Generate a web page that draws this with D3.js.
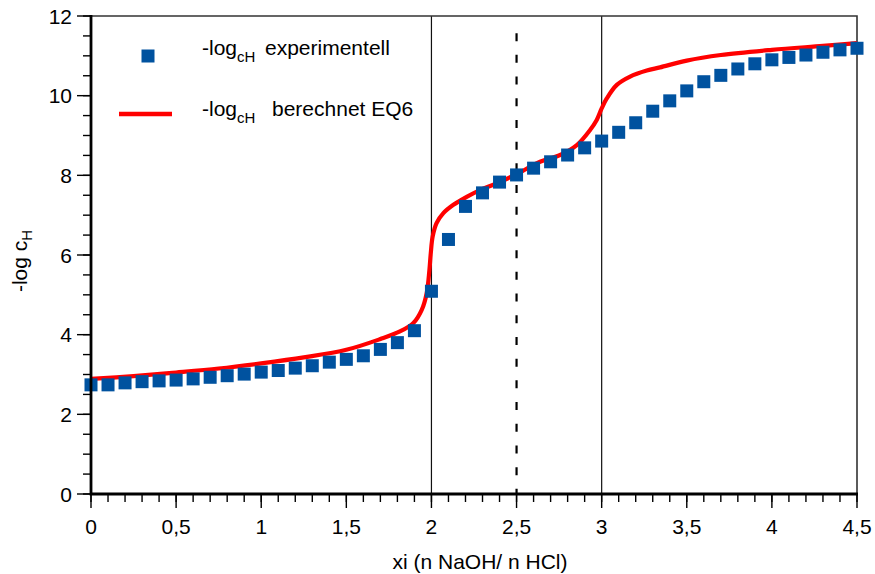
<!DOCTYPE html>
<html><head><meta charset="utf-8">
<script src="https://cdn.jsdelivr.net/npm/d3@7/dist/d3.min.js"></script>
<style>body{margin:0;background:#fff} svg{display:block} text{font-family:"Liberation Sans",Arial,sans-serif;fill:#000}</style>
</head><body><svg id="c" width="875" height="574"></svg>
<script>
// ---- data ----
const xExp = [0,0.1,0.2,0.3,0.4,0.5,0.6,0.7,0.8,0.9,1.0,1.1,1.2,1.3,1.4,1.5,1.6,1.7,1.8,1.9,2.0,2.1,2.2,2.3,2.4,2.5,2.6,2.7,2.8,2.9,3.0,3.1,3.2,3.3,3.4,3.5,3.6,3.7,3.8,3.9,4.0,4.1,4.2,4.3,4.4,4.5];
const yExp = [2.74,2.74,2.79,2.82,2.84,2.86,2.89,2.93,2.97,3.01,3.06,3.10,3.16,3.22,3.31,3.38,3.47,3.63,3.80,4.10,5.09,6.39,7.22,7.56,7.83,8.01,8.18,8.34,8.51,8.69,8.86,9.08,9.32,9.61,9.87,10.12,10.35,10.51,10.67,10.80,10.90,10.96,11.02,11.09,11.15,11.19];
const xCalc = [0,0.25,0.5,0.75,1.0,1.25,1.5,1.7,1.815,1.894,1.943,1.972,1.988,1.996,2.007,2.03,2.07,2.129,2.207,2.285,2.384,2.5,2.638,2.756,2.854,2.932,2.971,3.0,3.03,3.089,3.167,3.265,3.343,3.5,3.7,4.0,4.3,4.5];
const yCalc = [2.89,2.96,3.05,3.15,3.28,3.43,3.62,3.89,4.08,4.29,4.62,5.04,5.62,6.04,6.46,6.80,7.05,7.26,7.46,7.63,7.80,8.03,8.34,8.51,8.76,9.14,9.39,9.68,9.93,10.27,10.48,10.63,10.71,10.88,11.02,11.15,11.25,11.32];
const xMajorTicks = [0,0.5,1,1.5,2,2.5,3,3.5,4,4.5];
const xTickLabels = ["0","0,5","1","1,5","2","2,5","3","3,5","4","4,5"];
const yMajorTicks = [0,2,4,6,8,10,12];
const yTickLabels = ["0","2","4","6","8","10","12"];
const solidLines = [2,3];
const dashedLines = [2.5];
const seriesNames = ["experimentell","berechnet EQ6"];

// ---- layout ----
const svg = d3.select("#c");
const L=91, R=857, T=16, B=494;
const x = d3.scaleLinear().domain([0,4.5]).range([L,R]);
const y = d3.scaleLinear().domain([0,12]).range([B,T]);
const blue = "#00529F", red = "#FF0000";

// reference lines
svg.selectAll("line.v").data(solidLines).enter().append("line")
  .attr("x1",d=>x(d)).attr("x2",d=>x(d)).attr("y1",y(12)).attr("y2",y(0))
  .attr("stroke","#111").attr("stroke-width",1.2);
svg.selectAll("line.d").data(dashedLines).enter().append("line")
  .attr("x1",d=>x(d)).attr("x2",d=>x(d)).attr("y1",y(11.57)).attr("y2",y(0))
  .attr("stroke","#000").attr("stroke-width",2.2).attr("stroke-dasharray","8,13.7");

// frame top/right
svg.append("path").attr("d",`M${L},${T}H${R}V${B}`).attr("fill","none")
  .attr("stroke","#333").attr("stroke-width",1.6);

// calc curve
const calc = xCalc.map((v,i)=>[v,yCalc[i]]);
svg.append("path").datum(calc)
  .attr("d", d3.line().x(d=>x(d[0])).y(d=>y(d[1])).curve(d3.curveCatmullRom.alpha(0.5)))
  .attr("fill","none").attr("stroke",red).attr("stroke-width",4.2).attr("stroke-linejoin","round");

// exp points
const S=13;
svg.selectAll("rect.p").data(xExp.map((v,i)=>[v,yExp[i]])).enter().append("rect")
  .attr("x",d=>x(d[0])-S/2).attr("y",d=>y(d[1])-S/2).attr("width",S).attr("height",S)
  .attr("fill",blue);

// axes
const xMinor = x.ticks(45);
const yMinor = y.ticks(24);
const gx = svg.append("g");
gx.selectAll("line.mi").data(xMinor).enter().append("line")
  .attr("x1",d=>x(d)).attr("x2",d=>x(d)).attr("y1",B).attr("y2",B+8).attr("stroke","#000").attr("stroke-width",1.4);
gx.selectAll("line.ma").data(xMajorTicks).enter().append("line")
  .attr("x1",d=>x(d)).attr("x2",d=>x(d)).attr("y1",B).attr("y2",B+14).attr("stroke","#000").attr("stroke-width",1.4);
gx.selectAll("text").data(xMajorTicks).enter().append("text")
  .attr("x",d=>x(d)).attr("y",B+40).attr("text-anchor","middle").attr("font-size",21)
  .text((d,i)=>xTickLabels[i]);
const gy = svg.append("g");
gy.selectAll("line.mi").data(yMinor).enter().append("line")
  .attr("y1",d=>y(d)).attr("y2",d=>y(d)).attr("x1",L).attr("x2",L-8).attr("stroke","#000").attr("stroke-width",1.4);
gy.selectAll("line.ma").data(yMajorTicks).enter().append("line")
  .attr("y1",d=>y(d)).attr("y2",d=>y(d)).attr("x1",L).attr("x2",L-14).attr("stroke","#000").attr("stroke-width",1.4);
gy.selectAll("text").data(yMajorTicks).enter().append("text")
  .attr("x",L-19).attr("y",d=>y(d)).attr("dy","0.36em").attr("text-anchor","end").attr("font-size",21)
  .text((d,i)=>yTickLabels[i]);
// thick axis lines
svg.append("path").attr("d",`M${L},${T-1}V${B}H${R+1}`).attr("fill","none")
  .attr("stroke","#000").attr("stroke-width",2.8);

// axis titles
svg.append("text").attr("x",(L+R)/2+6).attr("y",569).attr("text-anchor","middle").attr("font-size",21)
  .text("xi (n NaOH/ n HCl)");
const yt = svg.append("text").attr("transform","translate(27,261) rotate(-90)").attr("text-anchor","middle").attr("font-size",21);
yt.append("tspan").text("-log c");
yt.append("tspan").attr("font-size",15).attr("dy",5).text("H");

// legend
svg.append("rect").attr("x",148-S/2).attr("y",56-S/2).attr("width",S).attr("height",S).attr("fill",blue);
svg.append("line").attr("x1",119).attr("x2",172).attr("y1",114).attr("y2",114).attr("stroke",red).attr("stroke-width",4.5);
const leg = [[55,265],[116,272]];
leg.forEach((p,i)=>{
  const t = svg.append("text").attr("y",p[0]).attr("font-size",21);
  t.append("tspan").attr("x",202).text("-log");
  t.append("tspan").attr("font-size",15).attr("dy",7).text("cH");
  t.append("tspan").attr("x",p[1]).attr("dy",-7).text(seriesNames[i]);
});
</script></body></html>
